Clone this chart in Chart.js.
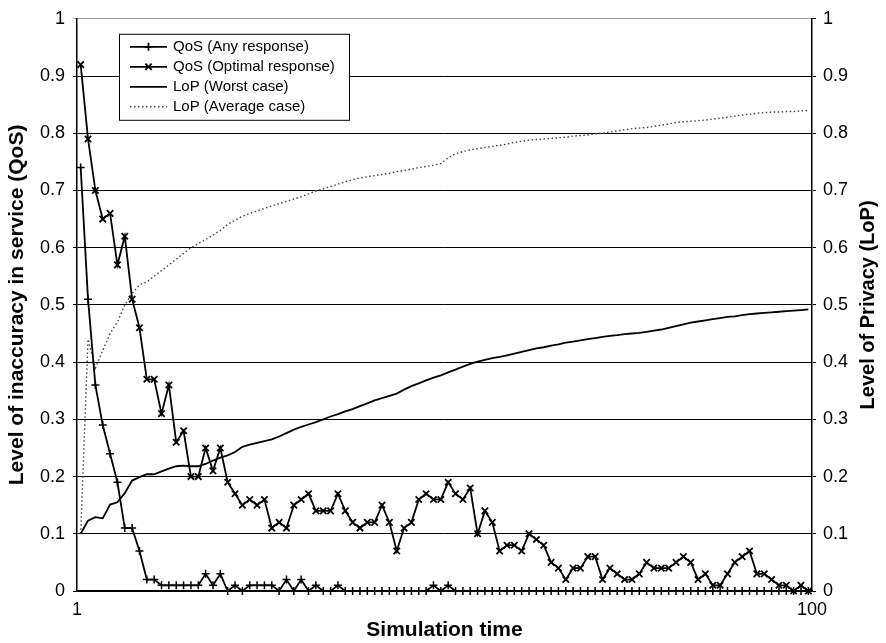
<!DOCTYPE html>
<html>
<head>
<meta charset="utf-8">
<script src="https://cdn.jsdelivr.net/npm/chart.js@4"></script>
<style>
  html, body { margin: 0; padding: 0; background: #fff; }
  #wrap { width: 886px; height: 643px; }
</style>
</head>
<body>
<div id="wrap"><canvas id="chartQos" width="886" height="643"></canvas></div>
<script>
// simulation time steps 1..100
const steps = Array.from({ length: 100 }, (_, i) => i + 1);
const xTickLabels = ['1', '100'];

const qosAny = [
    0.74, 0.51, 0.36, 0.29, 0.24, 0.19, 0.11, 0.11, 0.07, 0.02,
    0.02, 0.01, 0.01, 0.01, 0.01, 0.01, 0.01, 0.03, 0.01, 0.03,
    0.00, 0.01, 0.00, 0.01, 0.01, 0.01, 0.01, 0.00, 0.02, 0.00,
    0.02, 0.00, 0.01, 0.00, 0.00, 0.01, 0.00, 0.00, 0.00, 0.00,
    0.00, 0.00, 0.00, 0.00, 0.00, 0.00, 0.00, 0.00, 0.01, 0.00,
    0.01, 0.00, 0.00, 0.00, 0.00, 0.00, 0.00, 0.00, 0.00, 0.00,
    0.00, 0.00, 0.00, 0.00, 0.00, 0.00, 0.00, 0.00, 0.00, 0.00,
    0.00, 0.00, 0.00, 0.00, 0.00, 0.00, 0.00, 0.00, 0.00, 0.00,
    0.00, 0.00, 0.00, 0.00, 0.00, 0.00, 0.00, 0.00, 0.00, 0.00,
    0.00, 0.00, 0.00, 0.00, 0.00, 0.00, 0.00, 0.00, 0.00, 0.00
];

const qosOptimal = [
    0.92, 0.79, 0.70, 0.65, 0.66, 0.57, 0.62, 0.51, 0.46, 0.37,
    0.37, 0.31, 0.36, 0.26, 0.28, 0.20, 0.20, 0.25, 0.21, 0.25,
    0.19, 0.17, 0.15, 0.16, 0.15, 0.16, 0.11, 0.12, 0.11, 0.15,
    0.16, 0.17, 0.14, 0.14, 0.14, 0.17, 0.14, 0.12, 0.11, 0.12,
    0.12, 0.15, 0.12, 0.07, 0.11, 0.12, 0.16, 0.17, 0.16, 0.16,
    0.19, 0.17, 0.16, 0.18, 0.10, 0.14, 0.12, 0.07, 0.08, 0.08,
    0.07, 0.10, 0.09, 0.08, 0.05, 0.04, 0.02, 0.04, 0.04, 0.06,
    0.06, 0.02, 0.04, 0.03, 0.02, 0.02, 0.03, 0.05, 0.04, 0.04,
    0.04, 0.05, 0.06, 0.05, 0.02, 0.03, 0.01, 0.01, 0.03, 0.05,
    0.06, 0.07, 0.03, 0.03, 0.02, 0.01, 0.01, 0.00, 0.01, 0.00
];

const lopWorst = [
    0.100, 0.123, 0.129, 0.127, 0.151, 0.155, 0.171, 0.193, 0.199, 0.204,
    0.204, 0.209, 0.214, 0.218, 0.219, 0.218, 0.218, 0.222, 0.228, 0.233,
    0.237, 0.243, 0.252, 0.256, 0.259, 0.262, 0.265, 0.270, 0.276, 0.282,
    0.287, 0.291, 0.295, 0.300, 0.305, 0.309, 0.314, 0.318, 0.323, 0.328,
    0.333, 0.337, 0.341, 0.345, 0.352, 0.358, 0.363, 0.368, 0.373, 0.377,
    0.382, 0.387, 0.392, 0.397, 0.401, 0.404, 0.407, 0.409, 0.412, 0.415,
    0.418, 0.421, 0.424, 0.426, 0.429, 0.431, 0.434, 0.436, 0.438, 0.440,
    0.442, 0.444, 0.446, 0.447, 0.449, 0.450, 0.451, 0.453, 0.455, 0.457,
    0.460, 0.463, 0.466, 0.469, 0.471, 0.473, 0.475, 0.477, 0.479, 0.480,
    0.482, 0.484, 0.485, 0.486, 0.487, 0.488, 0.489, 0.490, 0.491, 0.492
];

const lopAverage = [
    0.100, 0.440, 0.390, 0.420, 0.450, 0.470, 0.500, 0.520, 0.535, 0.540,
    0.550, 0.560, 0.570, 0.580, 0.590, 0.600, 0.607, 0.614, 0.622, 0.630,
    0.641, 0.648, 0.655, 0.660, 0.664, 0.669, 0.673, 0.677, 0.681, 0.685,
    0.689, 0.694, 0.699, 0.703, 0.707, 0.711, 0.715, 0.719, 0.722, 0.724,
    0.726, 0.728, 0.730, 0.733, 0.735, 0.737, 0.740, 0.742, 0.744, 0.747,
    0.757, 0.764, 0.768, 0.771, 0.773, 0.775, 0.777, 0.779, 0.781, 0.784,
    0.786, 0.788, 0.789, 0.790, 0.791, 0.792, 0.793, 0.795, 0.796, 0.797,
    0.799, 0.800, 0.802, 0.804, 0.806, 0.808, 0.809, 0.810, 0.812, 0.814,
    0.816, 0.819, 0.820, 0.821, 0.822, 0.823, 0.825, 0.826, 0.828, 0.830,
    0.832, 0.833, 0.835, 0.836, 0.837, 0.837, 0.838, 0.838, 0.839, 0.840
];

const FONT = "'Liberation Sans', Arial, sans-serif";

const toPoints = (vals) => vals.map((v, i) => ({ x: steps[i], y: v }));

// legend drawn inside the plot, top left, like the original figure
const boxLegend = {
    id: 'boxLegend',
    afterDraw(chart) {
        const { ctx, chartArea } = chart;
        const x0 = chartArea.left + 42, y0 = chartArea.top + 15;
        const w = 230, h = 86, rowH = 20;
        ctx.save();
        ctx.fillStyle = '#fff';
        ctx.fillRect(x0, y0, w, h);
        ctx.strokeStyle = '#000';
        ctx.lineWidth = 1;
        ctx.strokeRect(x0 + 0.5, y0 + 0.5, w, h);
        ctx.font = '15px ' + FONT;
        ctx.textBaseline = 'middle';
        chart.data.datasets.forEach((ds, i) => {
            const y = y0 + 13 + i * rowH;
            ctx.beginPath();
            ctx.setLineDash(ds.borderDash || []);
            ctx.lineWidth = ds.borderWidth;
            ctx.strokeStyle = ds.borderColor;
            ctx.moveTo(x0 + 11, y);
            ctx.lineTo(x0 + 48, y);
            ctx.stroke();
            ctx.setLineDash([]);
            if (ds.pointRadius > 0) {
                Chart.helpers.drawPoint(ctx, {
                    pointStyle: ds.pointStyle,
                    radius: ds.pointRadius,
                    borderWidth: ds.pointBorderWidth
                }, x0 + 29.5, y);
            }
            ctx.fillStyle = '#000';
            ctx.fillText(ds.label, x0 + 54, y);
        });
        ctx.restore();
    }
};

// right axis title reads bottom-to-top in the original
const rightTitle = {
    id: 'rightTitle',
    afterDraw(chart) {
        const { ctx, chartArea } = chart;
        ctx.save();
        ctx.translate(chart.width - 18, (chartArea.top + chartArea.bottom) / 2);
        ctx.rotate(-Math.PI / 2);
        ctx.font = 'bold 20px ' + FONT;
        ctx.fillStyle = '#000';
        ctx.textAlign = 'center';
        ctx.textBaseline = 'middle';
        ctx.fillText('Level of Privacy (LoP)', 0, 0);
        ctx.restore();
    }
};

const canvas = document.getElementById('chartQos');
new Chart(canvas.getContext('2d'), {
    type: 'line',
    data: {
        datasets: [
            {
                label: 'QoS (Any response)',
                data: toPoints(qosAny),
                yAxisID: 'y',
                clip: false,
                borderColor: '#000',
                backgroundColor: '#000',
                borderWidth: 1.8,
                pointStyle: 'cross',
                pointRadius: 4,
                pointBorderWidth: 1.5,
                pointBorderColor: '#000',
                tension: 0,
                fill: false
            },
            {
                label: 'QoS (Optimal response)',
                data: toPoints(qosOptimal),
                yAxisID: 'y',
                clip: false,
                borderColor: '#000',
                backgroundColor: '#000',
                borderWidth: 1.8,
                pointStyle: 'crossRot',
                pointRadius: 4.5,
                pointBorderWidth: 1.8,
                pointBorderColor: '#000',
                tension: 0,
                fill: false
            },
            {
                label: 'LoP (Worst case)',
                data: toPoints(lopWorst),
                yAxisID: 'y2',
                borderColor: '#000',
                borderWidth: 1.8,
                pointRadius: 0,
                tension: 0,
                fill: false
            },
            {
                label: 'LoP (Average case)',
                data: toPoints(lopAverage),
                yAxisID: 'y2',
                borderColor: '#444',
                borderWidth: 1.4,
                borderDash: [1.5, 2.5],
                pointRadius: 0,
                tension: 0,
                fill: false
            }
        ]
    },
    options: {
        responsive: false,
        animation: false,
        layout: { padding: { top: 14 } },
        plugins: {
            legend: { display: false },
            tooltip: { enabled: false }
        },
        scales: {
            x: {
                type: 'linear',
                min: 0.5,
                max: 100.5,
                afterBuildTicks: (scale) => {
                    scale.ticks = [{ value: scale.min }, { value: scale.max }];
                },
                afterFit: (scale) => { scale.height = 52; },
                grid: { display: false, drawTicks: false },
                border: { display: true, color: '#000', width: 1.5 },
                ticks: {
                    autoSkip: false,
                    maxRotation: 0,
                    padding: 8,
                    color: '#000',
                    font: { family: FONT, size: 18 },
                    callback: (v, idx) => xTickLabels[idx]
                },
                title: {
                    display: true,
                    text: 'Simulation time',
                    color: '#000',
                    font: { family: FONT, size: 21, weight: 'bold' },
                    padding: { top: 0, bottom: 0 }
                }
            },
            y: {
                position: 'left',
                min: 0,
                max: 1,
                afterFit: (scale) => { scale.width = 77; },
                grid: {
                    color: (c) => (c.tick && c.tick.value === 1 ? '#999' : '#000'),
                    lineWidth: 1,
                    tickLength: 4
                },
                border: { display: true, color: '#000', width: 1.5 },
                ticks: {
                    stepSize: 0.1,
                    padding: 8,
                    color: '#000',
                    font: { family: FONT, size: 18 },
                    callback: (v) => String(+v.toFixed(1))
                },
                title: {
                    display: true,
                    text: 'Level of inaccuracy in service (QoS)',
                    color: '#000',
                    font: { family: FONT, size: 21, weight: 'bold' },
                    padding: { top: 5, bottom: 0 }
                }
            },
            y2: {
                position: 'right',
                min: 0,
                max: 1,
                afterFit: (scale) => { scale.width = 74; },
                grid: {
                    drawOnChartArea: false,
                    color: '#000',
                    tickLength: 4
                },
                border: { display: true, color: '#000', width: 1.5 },
                ticks: {
                    stepSize: 0.1,
                    padding: 7,
                    color: '#000',
                    font: { family: FONT, size: 18 },
                    callback: (v) => String(+v.toFixed(1))
                }
            }
        }
    },
    plugins: [boxLegend, rightTitle]
});
</script>
</body>
</html>
